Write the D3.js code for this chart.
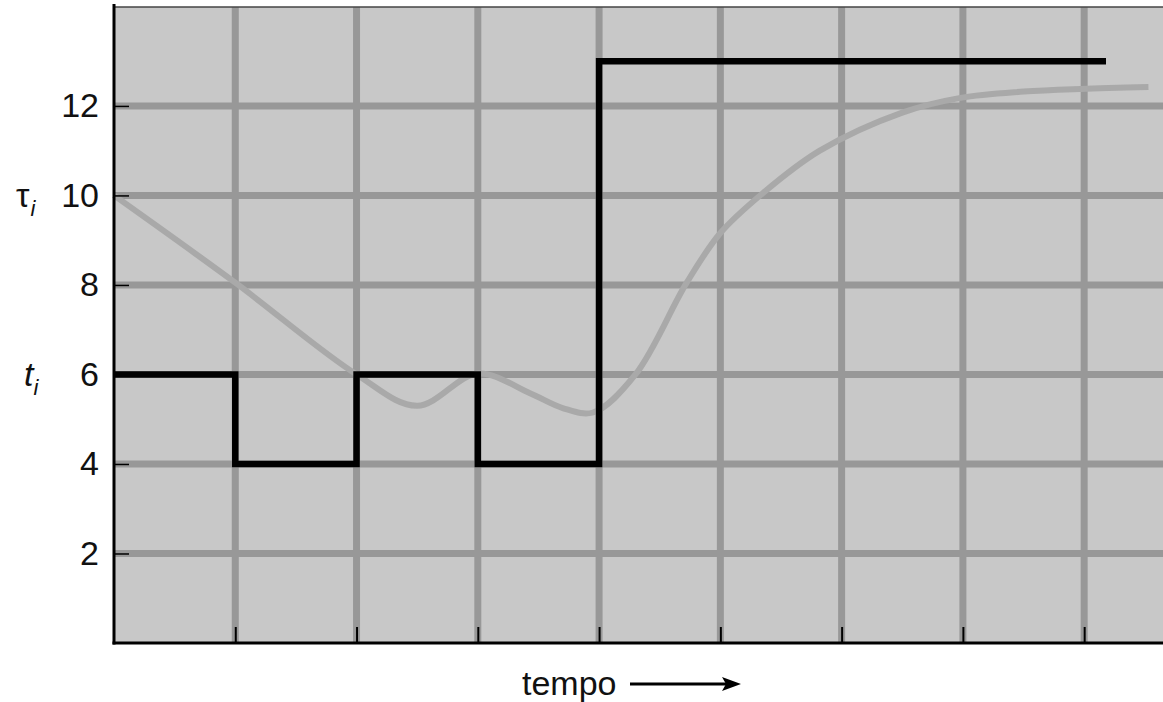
<!DOCTYPE html>
<html>
<head>
<meta charset="utf-8">
<script src="https://cdn.jsdelivr.net/npm/d3@7"></script>
<style>
  html, body { margin: 0; padding: 0; background: #fff; }
  svg text { font-family: "Liberation Sans", Arial, Helvetica, sans-serif; }
</style>
</head>
<body>
<svg id="chart" width="1163" height="702"></svg>
<script>
// ---- data ----
const yTicks = [2, 4, 6, 8, 10, 12];
const xGrid = [1, 2, 3, 4, 5, 6, 7, 8];
// actual burst lengths t_i (step function)
const burstX = [0, 1, 2, 3, 4, 8.18];
const burstY = [6, 4, 6, 4, 13, 13];
// predicted tau_i (smooth curve)
const predX = [0, 1, 2, 2.5, 3, 3.43, 3.7, 3.95, 4.3, 4.72, 5.0, 5.35, 5.82, 6.5, 6.98, 7.5, 7.97, 8.53];
const predY = [10, 8.05, 6.0, 5.3, 6.02, 5.58, 5.25, 5.15, 6.0, 8.04, 9.16, 10.05, 11.0, 11.85, 12.18, 12.32, 12.38, 12.42];
const xLabel = "tempo";

// ---- layout ----
const svg = d3.select("#chart");
const pLeft = 114, pRight = 1163, pTop = 7, pBottom = 643;
const x = d3.scaleLinear().domain([0, 8.65]).range([pLeft, pRight]);
const y = d3.scaleLinear().domain([0, 14.21]).range([pBottom, pTop]);
const FS = 34;

// background
svg.append("rect")
  .attr("x", pLeft).attr("y", pTop)
  .attr("width", pRight - pLeft).attr("height", pBottom - pTop)
  .attr("fill", "#c8c8c8");

// grid
const grid = svg.append("g").attr("stroke", "#989898").attr("stroke-width", 7);
grid.selectAll("line.v").data(xGrid).join("line")
  .attr("class", "v")
  .attr("x1", d => x(d)).attr("x2", d => x(d))
  .attr("y1", pTop).attr("y2", pBottom);
grid.selectAll("line.h").data(yTicks).join("line")
  .attr("class", "h")
  .attr("x1", pLeft).attr("x2", pRight)
  .attr("y1", d => y(d)).attr("y2", d => y(d));

// top border
svg.append("line")
  .attr("x1", pLeft).attr("x2", pRight).attr("y1", pTop).attr("y2", pTop)
  .attr("stroke", "#444").attr("stroke-width", 1.5);

// predicted curve
const predLine = d3.line()
  .x((d, i) => x(predX[i])).y((d, i) => y(predY[i]))
  .curve(d3.curveCatmullRom.alpha(0.5));
svg.append("path")
  .attr("d", predLine(predX))
  .attr("fill", "none").attr("stroke", "#a9a9a9").attr("stroke-width", 6);

// burst step line
const burstLine = d3.line()
  .x((d, i) => x(burstX[i])).y((d, i) => y(burstY[i]))
  .curve(d3.curveStepAfter);
svg.append("path")
  .attr("d", burstLine(burstX))
  .attr("fill", "none").attr("stroke", "#000").attr("stroke-width", 6.5)
  .attr("stroke-linejoin", "miter");

// axes
const yAxis = d3.axisLeft(y).tickValues(yTicks).tickSizeInner(-15).tickSizeOuter(0).tickPadding(15);
const gy = svg.append("g").attr("transform", `translate(${pLeft},0)`).call(yAxis);
gy.select(".domain").remove();
gy.selectAll(".tick line").attr("stroke", "#000").attr("stroke-width", 1.5);
gy.selectAll(".tick text").attr("font-size", FS).attr("fill", "#111")
  .attr("font-family", "'Liberation Sans', Arial, sans-serif");

const xAxis = d3.axisBottom(x).tickValues(xGrid).tickSizeInner(-16).tickSizeOuter(0).tickFormat("");
const gx = svg.append("g").attr("transform", `translate(0,${pBottom})`).call(xAxis);
gx.select(".domain").remove();
gx.selectAll(".tick line").attr("stroke", "#000").attr("stroke-width", 2);

// axis lines
svg.append("line")
  .attr("x1", pLeft).attr("x2", pLeft).attr("y1", 4).attr("y2", pBottom + 1.5)
  .attr("stroke", "#000").attr("stroke-width", 3);
svg.append("line")
  .attr("x1", pLeft - 1.5).attr("x2", pRight).attr("y1", pBottom).attr("y2", pBottom)
  .attr("stroke", "#000").attr("stroke-width", 3);

// series labels on y axis
const tauLbl = svg.append("text").attr("x", 16).attr("y", y(10) + 12)
  .attr("font-size", FS).attr("fill", "#111");
tauLbl.append("tspan").text("τ");
tauLbl.append("tspan").attr("font-size", 22).attr("font-style", "italic").attr("dy", 9).attr("dx", 1).text("i");

const tLbl = svg.append("text").attr("x", 24).attr("y", y(6) + 12)
  .attr("font-size", FS).attr("fill", "#111").attr("font-style", "italic");
tLbl.append("tspan").text("t");
tLbl.append("tspan").attr("font-size", 22).attr("dy", 9).attr("dx", 0).text("i");

// x label with arrow
svg.append("text").attr("x", 522).attr("y", 695)
  .attr("font-size", FS).attr("fill", "#111").text(xLabel);
svg.append("line")
  .attr("x1", 630).attr("x2", 726).attr("y1", 684).attr("y2", 684)
  .attr("stroke", "#000").attr("stroke-width", 3);
svg.append("path")
  .attr("d", "M741,684 L722,677 L726,684 L722,691 Z")
  .attr("fill", "#000");
</script>
</body>
</html>
